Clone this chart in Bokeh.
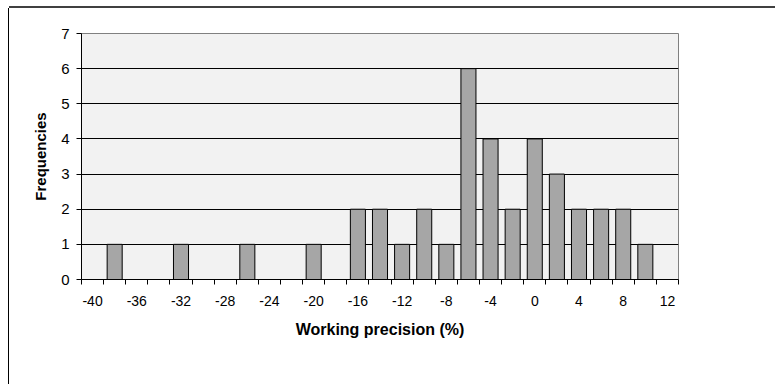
from bokeh.plotting import figure
from bokeh.models import Range1d, FixedTicker
from bokeh.embed import file_html
from bokeh.resources import INLINE

# Histogram bins (class centres, %) and their counts
bins = [-40, -38, -36, -34, -32, -30, -28, -26, -24, -22, -20, -18, -16, -14,
        -12, -10, -8, -6, -4, -2, 0, 2, 4, 6, 8, 10, 12]
freqs = [0, 1, 0, 0, 1, 0, 0, 1, 0, 0, 1, 0, 2, 2,
         1, 2, 1, 6, 4, 2, 4, 3, 2, 2, 2, 1, 0]

# Labelled bins on the x axis, and y axis ticks
x_label_ticks = [-40, -36, -32, -28, -24, -20, -16, -12, -8, -4, 0, 4, 8, 12]
y_ticks = [0, 1, 2, 3, 4, 5, 6, 7]

bin_width = 2
bar_fraction = 0.68
font = "Liberation Sans"

p = figure(width=766, height=376, output_backend="svg", toolbar_location=None,
           x_range=Range1d(bins[0] - bin_width / 2, bins[-1] + bin_width / 2),
           y_range=Range1d(y_ticks[0], y_ticks[-1]),
           min_border_left=72, min_border_right=97,
           min_border_top=25, min_border_bottom=105)

# chart-area border: dark top edge and thin left edge, drawn as offset shadows
p.styles = {"margin-left": "9px", "margin-top": "8px",
            "box-shadow": "0px -2px 0px 0px #404040, -1px 0px 0px 0px #000000"}

p.background_fill_color = "#f2f2f2"
p.border_fill_color = "white"
p.outline_line_color = "#808080"
p.outline_line_width = 1

# bars only for the non-empty classes
xs = [b for b, f in zip(bins, freqs) if f > 0]
hs = [f for f in freqs if f > 0]
p.vbar(x=xs, top=hs, bottom=0, width=bin_width * bar_fraction,
       fill_color="#a6a6a6", line_color="black", line_width=1)

# grid
p.xgrid.visible = False
p.ygrid.ticker = FixedTicker(ticks=y_ticks[1:-1])
p.ygrid.grid_line_color = "black"
p.ygrid.grid_line_width = 1

# x axis: tick marks on bin boundaries, labels on every other bin
boundaries = [b - bin_width / 2 for b in bins] + [bins[-1] + bin_width / 2]
xa = p.xaxis[0]
xa.ticker = FixedTicker(ticks=x_label_ticks, minor_ticks=boundaries)
xa.major_label_overrides = {t: str(t) for t in x_label_ticks}
xa.major_tick_in = 0
xa.major_tick_out = 0
xa.minor_tick_in = 0
xa.minor_tick_out = 5
xa.minor_tick_line_color = "black"
xa.axis_line_color = "black"
xa.major_label_text_font = font
xa.major_label_text_font_size = "14px"
xa.major_label_text_color = "black"
xa.major_label_standoff = 11
xa.axis_label = "Working precision (%)"
xa.axis_label_text_font = font
xa.axis_label_text_font_size = "16px"
xa.axis_label_text_font_style = "bold"
xa.axis_label_text_color = "black"
xa.axis_label_standoff = 12

ya = p.yaxis[0]
ya.ticker = FixedTicker(ticks=y_ticks, minor_ticks=[])
ya.major_tick_in = 0
ya.major_tick_out = 5
ya.minor_tick_line_color = None
ya.axis_line_color = "black"
ya.major_label_text_font = font
ya.major_label_text_font_size = "15px"
ya.major_label_text_color = "black"
ya.major_label_standoff = 7
ya.axis_label = "Frequencies"
ya.axis_label_text_font = font
ya.axis_label_text_font_size = "15px"
ya.axis_label_text_font_style = "bold"
ya.axis_label_text_color = "black"
ya.axis_label_standoff = 9

open("out.html", "w").write(file_html(p, INLINE))
